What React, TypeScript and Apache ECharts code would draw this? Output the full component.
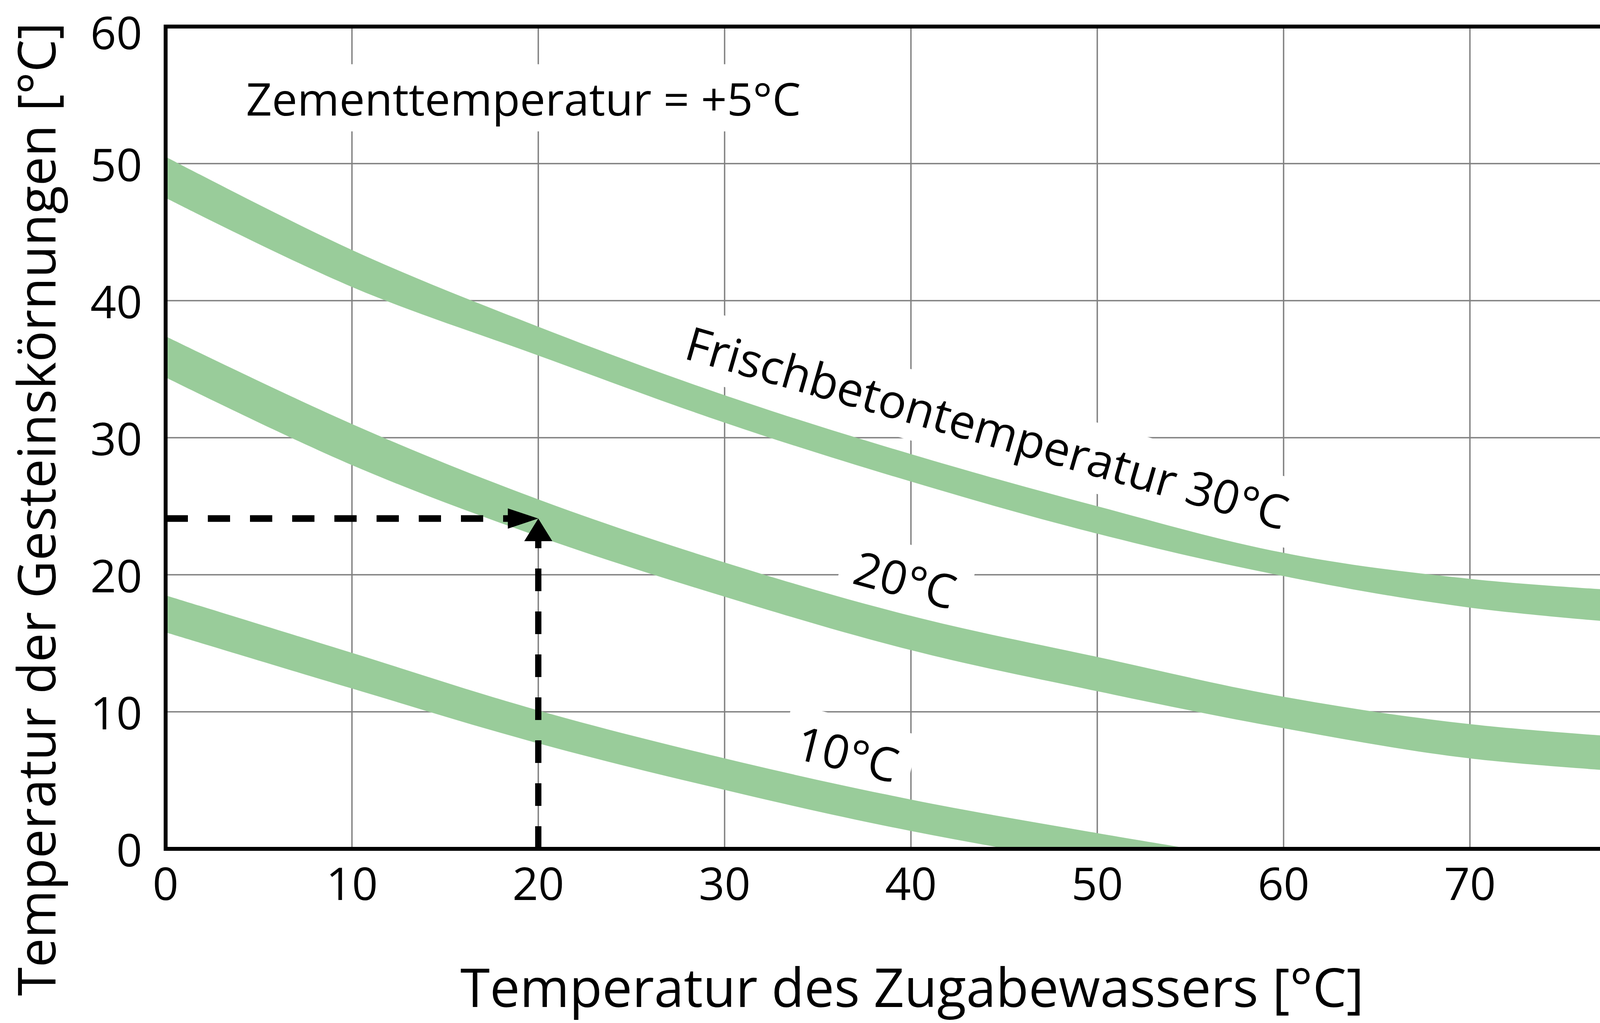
import React, { useEffect, useRef } from "react";
import * as echarts from "echarts";

// Temperatur des Zugabewassers [°C] – x categories where the band edges were read
const xTickLabels = ["0", "10", "20", "30", "40", "50", "60", "70", "80"];
const yTickLabels = ["0", "10", "20", "30", "40", "50", "60"];

// band edges, Temperatur der Gesteinskörnungen [°C]
const band30Upper = [50.5, 43.7, 38.1, 33.1, 28.8, 25.0, 21.6, 19.7, 18.7];
const band30Lower = [47.5, 41.0, 36.0, 31.1, 26.8, 23.0, 19.9, 17.6, 16.3];
const band20Upper = [37.4, 31.0, 25.5, 20.9, 17.0, 14.0, 11.1, 9.1, 8.0];
const band20Lower = [34.4, 28.0, 22.8, 18.4, 14.5, 11.5, 8.8, 6.6, 5.5];
const band10Upper = [18.5, 14.3, 10.1, 6.6, 3.6, 1.15, -1.1];
const band10Lower = [15.8, 11.7, 7.7, 4.3, 1.3, -1.1, -3.2];

// the worked example: water 20 °C -> aggregate ~24 °C
const exampleWater = 20;
const exampleAggregate = 24.1;

const labelTexts = ["Zementtemperatur = +5°C", "Frischbetontemperatur 30°C", "20°C", "10°C"];
const labelPos = [
  [19.2, 54.8],
  [44.1, 30.8],
  [39.7, 19.7],
  [36.6, 7.0],
];
const labelAngle = [0, -16, -15, -14];
const labelSize = [116, 120, 120, 120];

const GREEN = "#99cc9a";
const FONT = "'Open Sans', sans-serif";

function band(id: string, upper: number[], lower: number[]) {
  const common = {
    type: "line",
    xAxisIndex: 0,
    yAxisIndex: 0,
    stack: id,
    stackStrategy: "all",
    symbol: "none",
    smooth: 0.35,
    silent: true,
    z: 3,
    lineStyle: { width: 0, opacity: 0 },
  };
  return [
    { ...common, name: id + "-base", data: lower },
    {
      ...common,
      name: id,
      data: upper.map((v, i) => v - lower[i]),
      areaStyle: { color: GREEN, opacity: 1 },
    },
  ];
}

export default function App() {
  const chartRef = useRef(null);

  useEffect(() => {
    if (!chartRef.current) return;
    const chart = echarts.init(chartRef.current, null, { renderer: "svg" });

    const xMin = Number(xTickLabels[0]);
    const xMax = Number(xTickLabels[xTickLabels.length - 1]);
    const yMin = Number(yTickLabels[0]);
    const yMax = Number(yTickLabels[yTickLabels.length - 1]);
    const tickText = { color: "#000", fontSize: 116, fontFamily: FONT };

    const option = {
      animation: false,
      grid: { left: 424, top: 68, width: 3816, height: 2106, containLabel: false },
      xAxis: [
        {
          type: "category",
          data: xTickLabels,
          boundaryGap: false,
          axisLine: { show: false },
          axisTick: { show: false },
          splitLine: { show: true, interval: 0, lineStyle: { color: "#808080", width: 3.5 } },
          axisLabel: { interval: 0, margin: 28, ...tickText },
        },
        // hidden numeric twin of the category axis, used to place annotations
        { type: "value", min: xMin, max: xMax, show: false },
      ],
      yAxis: {
        type: "value",
        min: yMin,
        max: yMax,
        interval: 10,
        axisLine: { show: false },
        axisTick: { show: false },
        splitLine: { show: true, lineStyle: { color: "#808080", width: 3.5 } },
        axisLabel: {
          margin: 60,
          ...tickText,
          formatter: (v: number, i: number) => {
            const t = yTickLabels[i] ?? String(v);
            return i === yTickLabels.length - 1 ? `{top|${t}}` : t;
          },
          rich: { top: { ...tickText, padding: [26, 0, 0, 0] } },
        },
      },
      graphic: [
        {
          type: "text",
          x: 2335,
          y: 2526,
          style: {
            text: "Temperatur des Zugabewassers [°C]",
            fontSize: 137,
            fontFamily: FONT,
            fill: "#000",
            align: "center",
            verticalAlign: "middle",
          },
        },
        {
          type: "text",
          x: 90,
          y: 1304,
          rotation: Math.PI / 2,
          style: {
            text: "Temperatur der Gesteinskörnungen [°C]",
            fontSize: 133,
            fontFamily: FONT,
            fill: "#000",
            align: "center",
            verticalAlign: "middle",
          },
        },
      ],
      series: [
        // text labels with white boxes that cut the grid lines
        {
          type: "custom",
          xAxisIndex: 1,
          z: 2,
          silent: true,
          data: labelPos,
          renderItem: (params: any, api: any) => {
            const i = params.dataIndex;
            const p = api.coord([api.value(0), api.value(1)]);
            return {
              type: "text",
              x: p[0],
              y: p[1],
              rotation: (labelAngle[i] * Math.PI) / 180,
              style: {
                text: labelTexts[i],
                fontSize: labelSize[i],
                fontFamily: FONT,
                fill: "#000",
                align: "center",
                verticalAlign: "middle",
                backgroundColor: "#fff",
                padding: [28, 36],
              },
            };
          },
        },
        ...band("b30", band30Upper, band30Lower),
        ...band("b20", band20Upper, band20Lower),
        ...band("b10", band10Upper, band10Lower),
        // dashed reading arrows
        {
          type: "custom",
          xAxisIndex: 1,
          z: 4,
          silent: true,
          data: [[exampleWater, exampleAggregate]],
          renderItem: (params: any, api: any) => {
            const tip = api.coord([api.value(0), api.value(1)]);
            const start = api.coord([xMin, api.value(1)]);
            const foot = api.coord([api.value(0), yMin]);
            const hLen = 78;
            const hHalf = 26;
            const vLen = 58;
            const vHalf = 36;
            return {
              type: "group",
              children: [
                {
                  type: "line",
                  shape: { x1: start[0], y1: tip[1], x2: tip[0] - hLen, y2: tip[1] },
                  style: { stroke: "#000", lineWidth: 17, lineDash: [57, 51] },
                },
                {
                  type: "polygon",
                  shape: {
                    points: [
                      [tip[0], tip[1]],
                      [tip[0] - hLen, tip[1] - hHalf],
                      [tip[0] - hLen, tip[1] + hHalf],
                    ],
                  },
                  style: { fill: "#000" },
                },
                {
                  type: "line",
                  shape: { x1: tip[0], y1: foot[1], x2: tip[0], y2: tip[1] + vLen },
                  style: { stroke: "#000", lineWidth: 16, lineDash: [58, 52] },
                },
                {
                  type: "polygon",
                  shape: {
                    points: [
                      [tip[0], tip[1]],
                      [tip[0] - vHalf, tip[1] + vLen],
                      [tip[0] + vHalf, tip[1] + vLen],
                    ],
                  },
                  style: { fill: "#000" },
                },
              ],
            };
          },
        },
        // black frame on top of everything
        {
          type: "custom",
          xAxisIndex: 1,
          z: 5,
          silent: true,
          data: [[xMin, yMin]],
          renderItem: (params: any, api: any) => {
            const tl = api.coord([xMin, yMax]);
            const br = api.coord([xMax, yMin]);
            return {
              type: "rect",
              shape: { x: tl[0], y: tl[1], width: br[0] - tl[0], height: br[1] - tl[1] },
              style: { fill: "none", stroke: "#000", lineWidth: 10 },
            };
          },
        },
      ],
    };

    chart.setOption(option);
    return () => {
      chart.dispose();
    };
  }, []);

  return (
    <div
      ref={chartRef}
      style={{ position: "absolute", left: 0, top: 0, width: "4319px", height: "2620px", background: "#fff" }}
    />
  );
}
